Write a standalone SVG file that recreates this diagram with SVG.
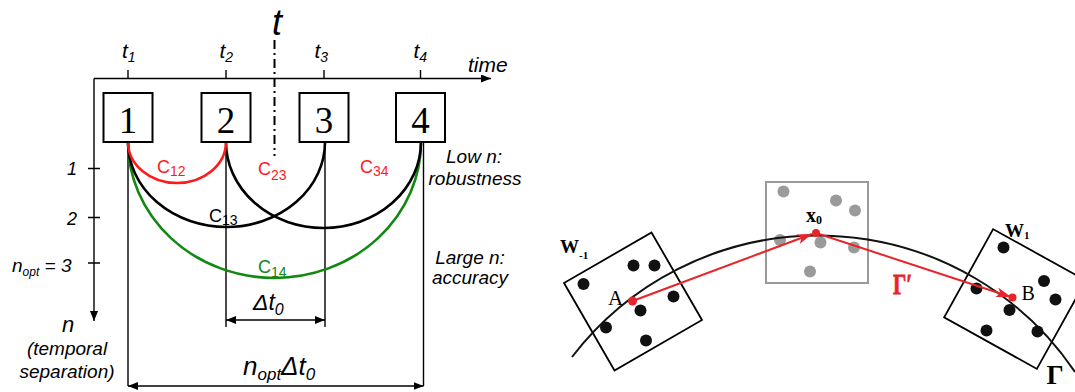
<svg xmlns="http://www.w3.org/2000/svg" width="1075" height="392" viewBox="0 0 1075 392">
<style>
.ln{fill:none;stroke:#000;stroke-width:1.4}
.box{fill:#fff;stroke:#000;stroke-width:2}
.num{font-family:"Liberation Serif",serif;font-size:37px;text-anchor:middle;fill:#000}
.it{font-family:"Liberation Sans",Arial,sans-serif;font-style:italic;fill:#000}
.cl{font-family:"Liberation Sans",Arial,sans-serif;font-size:18px}
.sub{font-size:14px}
.arc{fill:none;stroke-width:2.6}
.win{fill:none;stroke:#000;stroke-width:1.8}
.dot{fill:#111}
.gdot{fill:#9a9a9a}
.bs{font-family:"Liberation Serif",serif;font-weight:bold;fill:#000}
.rb{font-family:"Liberation Serif",serif;font-weight:bold;fill:#e8232a;stroke:#e8232a;stroke-width:0.8}
.rs{font-family:"Liberation Serif",serif;fill:#000}
</style>
<defs>
<marker id="ah" markerUnits="userSpaceOnUse" markerWidth="10" markerHeight="8" refX="10" refY="4" orient="auto-start-reverse">
<path d="M0,0 L10,4 L0,8 z" fill="#000"/>
</marker>
<marker id="rah" markerUnits="userSpaceOnUse" markerWidth="16" markerHeight="10" refX="15" refY="5" orient="auto">
<path d="M0,0 L15,5 L0,10 L4,5 z" fill="#e8232a"/>
</marker>
</defs>

<g id="axes">
<path class="ln" d="M94,78.5 H491" marker-end="url(#ah)"/>
<path class="ln" d="M94,78.5 V321" marker-end="url(#ah)"/>
<path class="ln" d="M128,70 V78.5 M226,70 V78.5 M324,70 V78.5 M420.5,70 V78.5"/>
<path class="ln" d="M88,168.5 H100 M88,217.5 H100 M88,263 H100"/>
<path d="M274.5,40 V156" fill="none" stroke="#000" stroke-width="2" stroke-dasharray="9 4 2 4"/>
</g>

<g id="labels-top">
<text class="it" x="272" y="35" font-size="36">t</text>
<text class="it" x="122" y="58" font-size="21">t<tspan font-size="14" dy="4">1</tspan></text>
<text class="it" x="219.5" y="58" font-size="21">t<tspan font-size="14" dy="4">2</tspan></text>
<text class="it" x="314.5" y="58" font-size="21">t<tspan font-size="14" dy="4">3</tspan></text>
<text class="it" x="413.5" y="58" font-size="21">t<tspan font-size="14" dy="4">4</tspan></text>
<text class="it" x="468" y="72" font-size="21">time</text>
</g>

<g id="labels-left">
<text class="it" x="77" y="175" font-size="18" text-anchor="end">1</text>
<text class="it" x="77" y="225" font-size="18" text-anchor="end">2</text>
<text class="it" x="12" y="272" font-size="19">n<tspan font-size="12" dy="4">opt</tspan><tspan dy="-4"> = 3</tspan></text>
<text class="it" x="62" y="332" font-size="22">n</text>
<text class="it" x="67" y="355" font-size="19" text-anchor="middle">(temporal</text>
<text class="it" x="67" y="378" font-size="19" text-anchor="middle">separation)</text>
</g>

<g id="labels-right">
<text class="it" x="474" y="163" font-size="19" text-anchor="middle">Low n:</text>
<text class="it" x="475" y="185" font-size="19" text-anchor="middle">robustness</text>
<text class="it" x="470" y="264" font-size="19" text-anchor="middle">Large n:</text>
<text class="it" x="470" y="284" font-size="19" text-anchor="middle">accuracy</text>
</g>

<g id="connectors">
<path class="ln" d="M128,142 V386 M226,142 V327 M325,142 V327 M423.5,142 V386"/>
<path class="ln" d="M226,320 H325" marker-start="url(#ah)" marker-end="url(#ah)"/>
<path class="ln" d="M128,386 H423.5" marker-start="url(#ah)" marker-end="url(#ah)"/>
<path class="arc" stroke="#118811" d="M128,142 A146.5,136 0 0,0 421,142"/>
<path class="arc" stroke="#000" d="M128,142 A98.5,85 0 0,0 325,142"/>
<path class="arc" stroke="#000" d="M226,142 A97.5,86 0 0,0 421,142"/>
<path class="arc" stroke="#ff1a1a" d="M128,142 A49,41 0 0,0 226,142"/>
<text class="cl" x="157" y="173" fill="#ff1a1a">C<tspan class="sub" dy="3">12</tspan></text>
<text class="cl" x="258" y="175" fill="#ff1a1a">C<tspan class="sub" dy="5">23</tspan></text>
<text class="cl" x="360" y="173" fill="#ff1a1a">C<tspan class="sub" dy="3">34</tspan></text>
<text class="cl" x="209" y="222" fill="#000">C<tspan class="sub" dy="3">13</tspan></text>
<text class="cl" x="258" y="273" fill="#118811">C<tspan class="sub" dy="4">14</tspan></text>
<text class="it" x="253" y="310" font-size="23">Δt<tspan font-size="16" dy="5">0</tspan></text>
<text class="it" x="243" y="375" font-size="26">n<tspan font-size="17" dy="5">opt</tspan><tspan dy="-5">Δt</tspan><tspan font-size="17" dy="5">0</tspan></text>
</g>

<g id="box1"><rect class="box" x="103.5" y="93" width="49" height="49"/><text class="num" x="128" y="133">1</text></g>
<g id="box2"><rect class="box" x="201.5" y="93" width="49" height="49"/><text class="num" x="226" y="133">2</text></g>
<g id="box3"><rect class="box" x="299.5" y="93" width="49" height="49"/><text class="num" x="324" y="133">3</text></g>
<g id="box4"><rect class="box" x="396" y="93" width="49" height="49"/><text class="num" x="420.5" y="133">4</text></g>

<g id="window-minus1">
<rect class="win" x="-50.5" y="-50.5" width="101" height="101" transform="translate(633,301.5) rotate(-30)"/>
<circle class="dot" cx="583.5" cy="284" r="6"/>
<circle class="dot" cx="633.5" cy="265.5" r="6"/>
<circle class="dot" cx="654.5" cy="265.5" r="6"/>
<circle class="dot" cx="673.5" cy="296.5" r="6"/>
<circle class="dot" cx="640.5" cy="310.5" r="6"/>
<circle class="dot" cx="606" cy="327.5" r="6"/>
<circle class="dot" cx="646" cy="340.5" r="6"/>
<text class="bs" x="560" y="253" font-size="19">W<tspan font-size="11" dy="6">-1</tspan></text>
<text class="rs" x="608" y="305" font-size="21">A</text>
</g>

<g id="window-0">
<rect x="766" y="182" width="102" height="101" fill="none" stroke="#9a9a9a" stroke-width="2"/>
<circle class="gdot" cx="783.5" cy="191.5" r="6"/>
<circle class="gdot" cx="836" cy="200.5" r="6"/>
<circle class="gdot" cx="855" cy="210.5" r="6"/>
<circle class="gdot" cx="780" cy="240" r="6"/>
<circle class="gdot" cx="820.5" cy="242.5" r="6"/>
<circle class="gdot" cx="854" cy="247.5" r="6"/>
<circle class="gdot" cx="810" cy="271.5" r="6"/>
<text class="bs" x="806" y="221.5" font-size="20">x<tspan font-size="12" dy="2">0</tspan></text>
</g>

<g id="window-1">
<rect class="win" x="-53" y="-50.5" width="106" height="101" transform="translate(1015,299) rotate(29)"/>
<circle class="dot" cx="1003.5" cy="247.5" r="6"/>
<circle class="dot" cx="1044" cy="281" r="6"/>
<circle class="dot" cx="1055.5" cy="299.5" r="6"/>
<circle class="dot" cx="976.5" cy="288.5" r="6"/>
<circle class="dot" cx="1009.5" cy="310" r="6"/>
<circle class="dot" cx="986.5" cy="330.5" r="6"/>
<circle class="dot" cx="1037.5" cy="331.5" r="6"/>
<text class="bs" x="1005" y="237" font-size="19">W<tspan font-size="11" dy="2">1</tspan></text>
<text class="rs" x="1021.5" y="300" font-size="20">B</text>
</g>

<g id="trajectory">
<path d="M572,357 A310,310 0 0,1 1075,372" fill="none" stroke="#111" stroke-width="2"/>
<text class="bs" x="1046.5" y="383.5" font-size="27">Γ</text>
</g>

<g id="red-path">
<path d="M632.5,301 L812,234" fill="none" stroke="#e8232a" stroke-width="2" marker-end="url(#rah)"/>
<path d="M816,233 L1011,297" fill="none" stroke="#e8232a" stroke-width="2" marker-end="url(#rah)"/>
<circle cx="632.5" cy="301" r="4.5" fill="#e8232a"/>
<circle cx="816" cy="233" r="4" fill="#e8232a"/>
<circle cx="1012.5" cy="297.5" r="4" fill="#e8232a"/>
<text class="rb" font-size="29" transform="translate(893,293.5) scale(0.72,1)">Γ′</text>
</g>
</svg>
